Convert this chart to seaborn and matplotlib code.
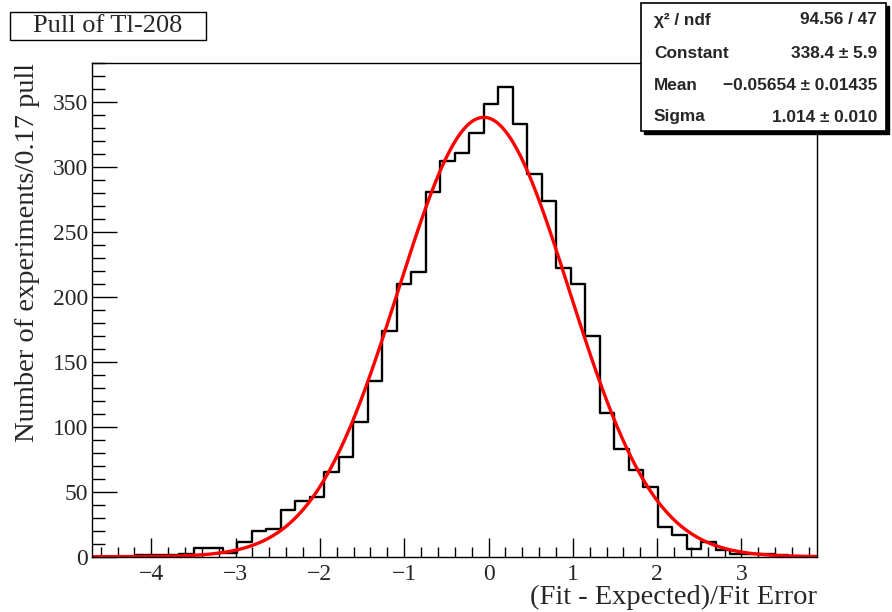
import numpy as np
import pandas as pd
import seaborn as sns
import matplotlib
matplotlib.use("Agg")
import matplotlib.pyplot as plt
from matplotlib.patches import Rectangle
from matplotlib.ticker import MultipleLocator

# ---- data ----
x_min, x_max, n_bins = -4.7, 3.9, 50
counts = [0, 0, 0, 1, 1, 1, 2, 7, 7, 3,
          11, 20, 21, 36, 43, 46, 65, 77, 104, 135,
          174, 210, 219, 281, 305, 311, 326, 349, 362, 333,
          295, 274, 222, 210, 170, 111, 83, 67, 54, 23,
          17, 6, 11, 5, 2, 2, 2, 1, 0, 0]
fit_constant = 338.4
fit_mean = -0.05654
fit_sigma = 1.014
stats_labels = ["\u03c7\u00b2 / ndf", "Constant", "Mean", "Sigma"]
stats_values = ["94.56 / 47", "338.4 \u00b1 5.9", "\u22120.05654 \u00b1 0.01435", "1.014 \u00b1 0.010"]
title = "Pull of Tl-208"
xlabel = "(Fit - Expected)/Fit Error"
ylabel = "Number of experiments/0.17 pull"

edges = np.linspace(x_min, x_max, n_bins + 1)
centers = 0.5 * (edges[:-1] + edges[1:])
df = pd.DataFrame({"pull": centers, "n": counts})

xs = np.linspace(x_min, x_max, 600)
fit_df = pd.DataFrame({"x": xs,
                       "y": fit_constant * np.exp(-0.5 * ((xs - fit_mean) / fit_sigma) ** 2)})

sns.set_theme(style="white")
plt.rcParams["font.family"] = ["Liberation Serif", "DejaVu Serif"]

W, H = 892, 612
fig = plt.figure(figsize=(W / 100, H / 100), dpi=100)
L, R, T, B = 92.3, 817.3, 63.3, 556.7
ax = fig.add_axes([L / W, 1 - B / H, (R - L) / W, (B - T) / H])

sns.histplot(data=df, x="pull", weights="n", bins=n_bins, binrange=(x_min, x_max),
             element="step", fill=False, color="black", linewidth=1.7, ax=ax)
sns.lineplot(data=fit_df, x="x", y="y", color="#ff0000", linewidth=2.4, ax=ax)

ax.set_xlim(x_min, x_max)
ax.set_ylim(0, 380)
ax.xaxis.set_major_locator(MultipleLocator(1))
ax.xaxis.set_minor_locator(MultipleLocator(0.2))
ax.yaxis.set_major_locator(MultipleLocator(50))
ax.yaxis.set_minor_locator(MultipleLocator(10))
ax.tick_params(axis="both", which="both", direction="in", color="black",
               bottom=True, left=True, top=False, right=False)
ax.tick_params(axis="x", which="major", length=14, width=1, pad=5, labelsize=17)
ax.tick_params(axis="x", which="minor", length=7, width=1)
ax.tick_params(axis="y", which="major", length=18, width=1, pad=3, labelsize=17)
ax.tick_params(axis="y", which="minor", length=9, width=1)
for s in ax.spines.values():
    s.set_color("black")
    s.set_linewidth(1.0)

ax.set_xlabel(xlabel, fontsize=20.5, ha="right")
ax.xaxis.set_label_coords(1.0, -0.057)
ax.xaxis.label.set_va("top")
ax.set_ylabel(ylabel, fontsize=20.5, ha="right")
ax.yaxis.set_label_coords(-0.072, 1.0)

def fx(px):
    return px / W

def fy(py):
    return 1 - py / H

# title box
fig.add_artist(Rectangle((fx(10), fy(40)), fx(206) - fx(10), fy(12) - fy(40),
                         transform=fig.transFigure, facecolor="white",
                         edgecolor="black", linewidth=1.0))
fig.text(fx(108), fy(26), title, ha="center", va="center", fontsize=19)

# stats box with shadow
bx0, by0, bx1, by1 = 641, 3, 886, 131
fig.add_artist(Rectangle((fx(bx0 + 3), fy(by1 + 3)), fx(bx1) - fx(bx0), fy(by0) - fy(by1),
                         transform=fig.transFigure, facecolor="black",
                         edgecolor="black", linewidth=1.0, zorder=10))
fig.add_artist(Rectangle((fx(bx0), fy(by1)), fx(bx1) - fx(bx0), fy(by0) - fy(by1),
                         transform=fig.transFigure, facecolor="white",
                         edgecolor="black", linewidth=1.2, zorder=11))
row_y = [20, 54, 86, 117]
for lab, val, yy in zip(stats_labels, stats_values, row_y):
    fig.text(fx(654), fy(yy), lab, ha="left", va="center", fontsize=12.4,
             fontweight="bold", family=["Liberation Sans", "DejaVu Sans"], zorder=12)
    fig.text(fx(877), fy(yy), val, ha="right", va="center", fontsize=12.4,
             fontweight="bold", family=["Liberation Sans", "DejaVu Sans"], zorder=12)

fig.savefig("out.png", dpi=100)
